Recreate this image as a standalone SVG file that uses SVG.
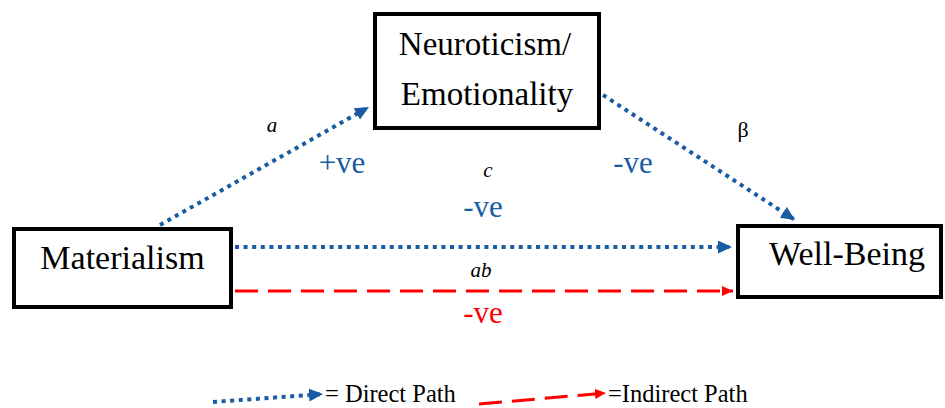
<svg xmlns="http://www.w3.org/2000/svg" width="945" height="408" viewBox="0 0 945 408">
<style>
.box{fill:#fff;stroke:#000;stroke-width:4}
.node{font-family:"Liberation Serif","Times New Roman",serif;font-size:34px;fill:#000;text-anchor:middle}
.lbl{font-family:"Liberation Serif","Times New Roman",serif;font-size:21px;fill:#000;text-anchor:middle}
.it{font-style:italic}
.ve{font-family:"Liberation Serif","Times New Roman",serif;font-size:31px;text-anchor:middle}
.blue{fill:#1a5ca3}
.red{fill:#ff0000}
.dot{fill:none;stroke:#1a5ca3;stroke-width:4;stroke-dasharray:4 4.6}
.dash{fill:none;stroke:#ff0000;stroke-width:3;stroke-dasharray:23 10}
.leg{font-family:"Liberation Serif","Times New Roman",serif;font-size:24.5px;fill:#000}
</style>
<defs>
<marker id="ab" markerUnits="userSpaceOnUse" markerWidth="16" markerHeight="14" refX="14" refY="6.5" orient="auto"><path d="M0,0 L14,6.5 L0,13 Z" fill="#1a5ca3"/></marker>
<marker id="ar" markerUnits="userSpaceOnUse" markerWidth="13" markerHeight="11" refX="11" refY="5" orient="auto"><path d="M0,0 L11,5 L0,10 Z" fill="#ff0000"/></marker>
</defs>
<g id="connectors">
<line class="dot" x1="160" y1="225" x2="369" y2="107" marker-end="url(#ab)"/>
<line class="dot" x1="603" y1="95" x2="795" y2="220" marker-end="url(#ab)"/>
<line class="dot" x1="235" y1="247" x2="732" y2="247" marker-end="url(#ab)"/>
<line class="dash" x1="235" y1="291" x2="733" y2="291" marker-end="url(#ar)"/>
</g>
<g id="materialism">
<rect class="box" x="14" y="229" width="217" height="78"/>
<text class="node" x="122.5" y="269">Materialism</text>
</g>
<g id="neuroticism">
<rect class="box" x="375" y="14" width="224" height="114"/>
<text class="node" x="485" y="55" style="font-size:33px">Neuroticism/</text>
<text class="node" x="487" y="105" style="font-size:33px">Emotionality</text>
</g>
<g id="wellbeing">
<rect class="box" x="738" y="226" width="203" height="71"/>
<text class="node" x="847" y="265">Well-Being</text>
</g>
<g id="labels">
<text class="lbl it" x="272" y="132">a</text>
<text class="ve blue" x="342" y="173">+ve</text>
<text class="lbl" x="743" y="137" style="font-size:22px">β</text>
<text class="ve blue" x="633" y="173">-ve</text>
<text class="lbl it" x="488" y="177">c</text>
<text class="ve blue" x="483" y="217">-ve</text>
<text class="lbl it" x="481" y="277">ab</text>
<text class="ve red" x="483" y="323">-ve</text>
</g>
<g id="legend">
<line class="dot" x1="213" y1="402" x2="323" y2="394" marker-end="url(#ab)"/>
<text class="leg" x="325" y="402">= Direct Path</text>
<line class="dash" x1="479" y1="404" x2="606" y2="393" marker-end="url(#ar)"/>
<text class="leg" x="608" y="402">=Indirect Path</text>
</g>
</svg>
